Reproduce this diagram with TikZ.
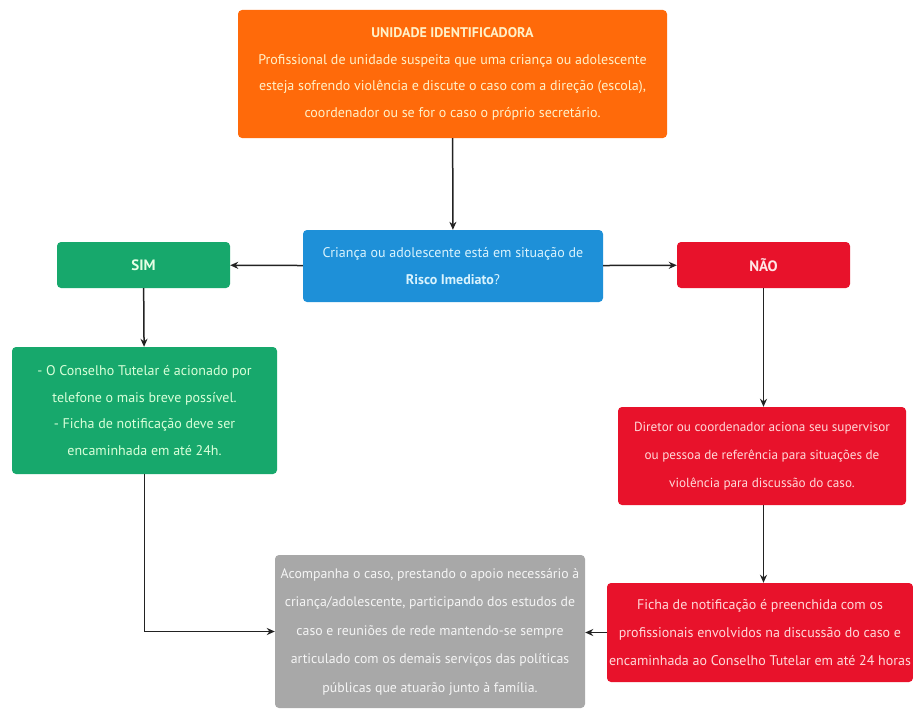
\documentclass[tikz,border=0pt]{standalone}
\usepackage{fontspec}
\setmainfont{PT Sans}
\usetikzlibrary{arrows.meta}
\definecolor{corange}{HTML}{FF6A0A}
\definecolor{cblue}{HTML}{1E90D8}
\definecolor{cgreen}{HTML}{17A86C}
\definecolor{cred}{HTML}{E8122B}
\definecolor{cgray}{HTML}{A8A8A8}
\definecolor{ctxt}{HTML}{FFF1C8}
\definecolor{cline}{HTML}{222222}
\begin{document}
\begin{tikzpicture}[x=1pt,y=-1pt,
  box/.style={rectangle,rounded corners=4pt,align=center,inner sep=0pt,
    font=\fontsize{14}{26.5}\selectfont,text=ctxt},
  conn/.style={draw=cline,line width=1.5pt,-{Stealth[length=8pt,width=7pt]}}]
\useasboundingbox (0,0) rectangle (913,709);
\fill[white] (0,0) rectangle (913,709);
\node[box,fill=corange,minimum width=429pt,minimum height=128pt] (orange) at (452.5,74)
  {\textbf{UNIDADE IDENTIFICADORA}\\Profissional de unidade suspeita que uma criança ou adolescente\\esteja sofrendo violência e discute o caso com a direção (escola),\\coordenador ou se for o caso o próprio secretário.};
\node[box,fill=cblue,minimum width=300pt,minimum height=72pt,text=white!85!cyan] (blue) at (453,266)
  {Criança ou adolescente está em situação de\\\textbf{Risco Imediato}?};
\node[box,fill=cgreen,minimum width=173pt,minimum height=46pt,text=white!90!green,font=\fontsize{15}{18}\selectfont] (sim) at (143.5,265) {\textbf{SIM}};
\node[box,fill=cred,minimum width=173pt,minimum height=46pt,text=white!90!red,font=\fontsize{15}{18}\selectfont] (nao) at (763.5,265) {\textbf{NÃO}};
\node[box,fill=cgreen,minimum width=265pt,minimum height=127pt,text=white!85!green,font=\fontsize{14}{26.8}\selectfont] (green) at (144.5,410.5)
  {- O Conselho Tutelar é acionado por\\telefone o mais breve possível.\\- Ficha de notificação deve ser\\encaminhada em até 24h.};
\node[box,fill=cred,minimum width=288pt,minimum height=98pt,text=white!85!red,font=\fontsize{13.2}{28}\selectfont] (red1) at (762,456)
  {Diretor ou coordenador aciona seu supervisor\\ou pessoa de referência para situações de\\violência para discussão do caso.};
\node[box,fill=cgray,minimum width=310pt,minimum height=153pt,text=white!92!gray,font=\fontsize{13.8}{28.5}\selectfont] (gray) at (430,631.5)
  {Acompanha o caso, prestando o apoio necessário à\\criança/adolescente, participando dos estudos de\\caso e reuniões de rede mantendo-se sempre\\articulado com os demais serviços das políticas\\públicas que atuarão junto à família.};
\node[box,fill=cred,minimum width=306pt,minimum height=99pt,text=white!85!red,font=\fontsize{14}{28}\selectfont] (red2) at (760,632.5)
  {Ficha de notificação é preenchida com os\\profissionais envolvidos na discussão do caso e\\encaminhada ao Conselho Tutelar em até 24 horas};
\draw[conn] (orange) -- (blue);
\draw[conn] (blue) -- (sim);
\draw[conn] (blue) -- (nao);
\draw[conn] (sim) -- (green);
\draw[conn] (nao.south) -- (red1.north -| nao.south);
\draw[conn] (red1.south -| nao.south) -- (red2.north -| nao.south);
\draw[conn] (green.south) |- (gray.west);
\draw[conn] (red2.west) -- (gray.east |- red2.west);
\end{tikzpicture}
\end{document}
